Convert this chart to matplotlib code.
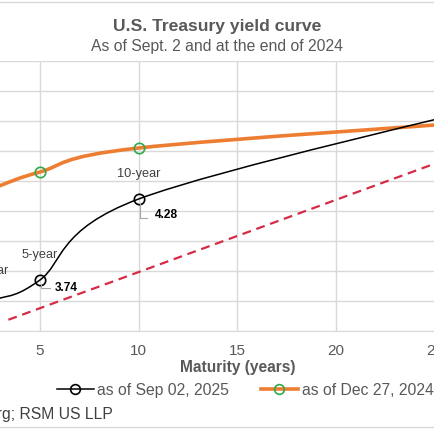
import matplotlib
matplotlib.use("Agg")
import matplotlib.pyplot as plt
from matplotlib.path import Path
from matplotlib.patches import PathPatch
from matplotlib.lines import Line2D

plt.rcParams['font.family'] = ['Liberation Sans', 'DejaVu Sans']

# datos
maturity = [1, 2, 3, 5, 10, 30]
yield_sep = [3.85, 3.63, 3.62, 3.74, 4.28, 4.97]
yield_dec = [4.18, 4.31, 4.37, 4.46, 4.62, 4.82]
marked = [1, 3, 4, 5]          # indices con marcador (2, 5, 10, 30 anos)
labels_sep = {1: "2-year", 3: "5-year", 4: "10-year"}
values_sep = {3: "3.74", 4: "4.28"}
ref_x = [3.4, 30]
ref_y = [3.475, 4.756]
xticks = [0, 5, 10, 15, 20, 25, 30]
yticks = [3.4, 3.6, 3.8, 4.0, 4.2, 4.4, 4.6, 4.8, 5.0, 5.2]

GRAY = "#595959"
W = H = 435
PT = 100 / 72  # px por punto


def smooth_path(xs, ys):
    # curva suavizada tipo Excel (bezier cubica, control a 1/6)
    pts = list(zip(xs, ys))
    verts = [pts[0]]
    codes = [Path.MOVETO]
    n = len(pts)
    for i in range(n - 1):
        p0 = pts[max(i - 1, 0)]
        p1 = pts[i]
        p2 = pts[i + 1]
        p3 = pts[min(i + 2, n - 1)]
        c1 = (p1[0] + (p2[0] - p0[0]) / 6, p1[1] + (p2[1] - p0[1]) / 6)
        c2 = (p2[0] - (p3[0] - p1[0]) / 6, p2[1] - (p3[1] - p1[1]) / 6)
        verts += [c1, c2, p2]
        codes += [Path.CURVE4] * 3
    return Path(verts, codes)


fig = plt.figure(figsize=(4.35, 4.35), dpi=100)
# el area de trazado sale por la izquierda (recorte del original)
ax = fig.add_axes([-58.7 / W, (H - 332) / H, 592 / W, 270 / H])
ax.set_xlim(0, 30)
ax.set_ylim(3.4, 5.2)
ax.set_xticks(xticks)
ax.set_yticks(yticks)
ax.grid(True, color="#D9D9D9", linewidth=1)
ax.set_axisbelow(True)
for s in ["top", "right", "left"]:
    ax.spines[s].set_visible(False)
ax.spines["bottom"].set_color("#D9D9D9")
ax.tick_params(length=0, colors=GRAY, labelsize=11, pad=9)
ax.set_xlabel("Maturity (years)", fontsize=11.2, fontweight="bold", color=GRAY, labelpad=1)

ax.plot(ref_x, ref_y, color="#D52B45", linewidth=1.6, linestyle=(0, (4, 2.6)), zorder=2)

ax.add_patch(PathPatch(smooth_path(maturity, yield_dec), fill=False,
                       edgecolor="#ED7D31", linewidth=2.6, zorder=3))
ax.add_patch(PathPatch(smooth_path(maturity, yield_sep), fill=False,
                       edgecolor="black", linewidth=1.1, zorder=4))

mx = [maturity[i] for i in marked]
ax.plot(mx, [yield_dec[i] for i in marked], linestyle="none", marker="o",
        markersize=7.5, markerfacecolor="none", markeredgecolor="#2EAA4A",
        markeredgewidth=1.2, zorder=5)
ax.plot(mx, [yield_sep[i] for i in marked], linestyle="none", marker="o",
        markersize=7.5, markerfacecolor="none", markeredgecolor="black",
        markeredgewidth=1.2, zorder=6)

for i, txt in labels_sep.items():
    dx = 7 if i == 1 else 0
    ax.annotate(txt, (maturity[i], yield_sep[i]), xytext=(dx, 19),
                textcoords="offset points", ha="center", va="center",
                fontsize=9.2, color="#404040", zorder=7)

# desplazamientos en px de la etiqueta de valor y su linea guia
offsets = {3: (14.5, 7, 2.5, 9), 4: (16, 15, 13.5, 7)}
for i, txt in values_sep.items():
    tx, ty, ly, lx = offsets[i]
    ax.annotate(txt, (maturity[i], yield_sep[i]), xytext=(tx / PT, -ty / PT),
                textcoords="offset points", ha="left", va="center",
                fontsize=8.6, fontweight="bold", color="black", zorder=7)
    # linea guia
    x0, y0 = ax.transData.transform((maturity[i], yield_sep[i]))
    fig.lines.append(Line2D([(x0 + 1) / W, (x0 + 1) / W, (x0 + 1 + lx) / W],
                            [(y0 - 5) / H, (y0 - 5 - ly) / H, (y0 - 5 - ly) / H],
                            transform=fig.transFigure, color="#A6A6A6",
                            linewidth=0.8))

fig.text(217 / W, 1 - 27 / H, "U.S. Treasury yield curve", ha="center", va="center",
         fontsize=12.6, fontweight="bold", color=GRAY)
fig.text(217 / W, 1 - 47 / H, "As of Sept. 2 and at the end of 2024", ha="center",
         va="center", fontsize=11.3, color=GRAY)

handles = [
    Line2D([], [], color="black", linewidth=1.1, marker="o", markersize=7,
           markerfacecolor="none", markeredgecolor="black", markeredgewidth=1.2),
    Line2D([], [], color="#ED7D31", linewidth=2.6, marker="o", markersize=7,
           markerfacecolor="none", markeredgecolor="#2EAA4A", markeredgewidth=1.2),
]
fig.legend(handles, ["as of Sep 02, 2025", "as of Dec 27, 2024"], loc="center",
           bbox_to_anchor=(245 / W, 1 - 391 / H), ncol=2, frameon=False,
           fontsize=11.3, labelcolor=GRAY, handlelength=2.35, handletextpad=0.25,
           columnspacing=2.0, borderpad=0, borderaxespad=0)

fig.text(113 / W, 1 - 415 / H, "Source: Bloomberg; RSM US LLP", ha="right",
         va="center", fontsize=11.3, color="#404040")

for yy in [2.5, 427.5]:
    fig.lines.append(Line2D([0, 1], [1 - yy / H, 1 - yy / H], transform=fig.transFigure,
                            color="#D9D9D9", linewidth=1))

fig.savefig("out.png", dpi=100)
